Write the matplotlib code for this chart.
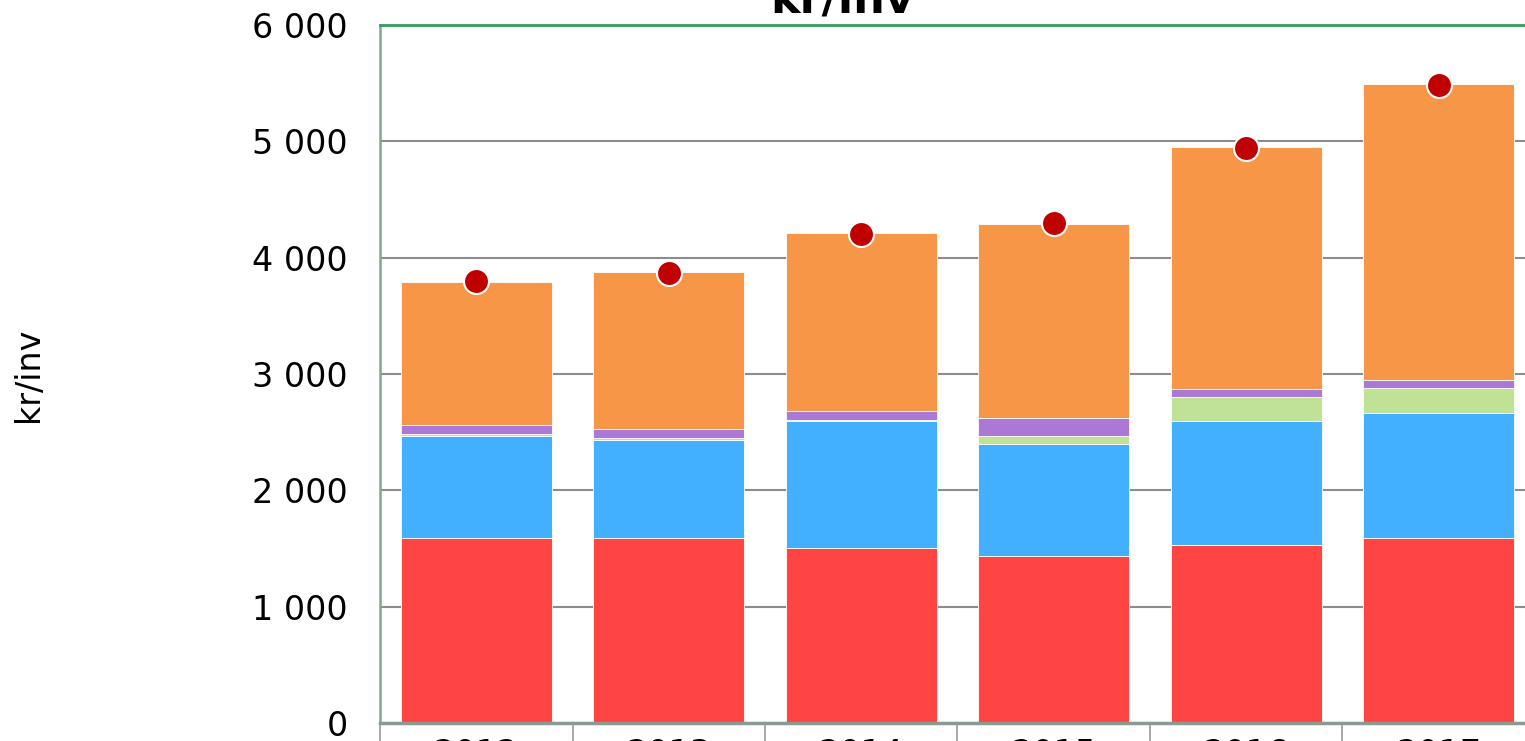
import matplotlib
matplotlib.use("Agg")
import matplotlib.pyplot as plt
import numpy as np

years = ["2012", "2013", "2014", "2015", "2016", "2017"]
red_vals = [1590, 1590, 1505, 1436, 1530, 1590]
blue_vals = [877, 843, 1091, 962, 1066, 1075]
green_vals = [18, 17, 9, 69, 206, 215]
purple_vals = [77, 77, 77, 155, 69, 68]
orange_vals = [1229, 1350, 1530, 1668, 2081, 2545]
totals = [3800, 3868, 4206, 4296, 4946, 5488]
yticks = [0, 1000, 2000, 3000, 4000, 5000, 6000]

W, H = 1525, 741
fig = plt.figure(figsize=(W / 100, H / 100), dpi=100)
# the original chart is wider than the saved picture, so the axes run past the right edge
ax = fig.add_axes([380 / W, (H - 723) / H, 1155 / W, 698 / H])

x = np.arange(len(years))
bw = 0.785
series = [
    (red_vals, "#FF4444"),
    (blue_vals, "#42AFFF"),
    (green_vals, "#BFE297"),
    (purple_vals, "#AC78D6"),
    (orange_vals, "#F79646"),
]
bottom = np.zeros(len(years))
for vals, col in series:
    ax.bar(x, vals, bw, bottom=bottom, color=col, edgecolor="white",
           linewidth=0.6, zorder=2)
    bottom += np.array(vals)

ax.plot(x, totals, "o", color="#C00000", markersize=18,
        markeredgecolor="white", markeredgewidth=1.5, zorder=3)

ax.set_xlim(-0.5, len(years) - 0.5)
ax.set_ylim(0, 6000)
ax.set_yticks(yticks)
ax.set_yticklabels([f"{v:,}".replace(",", " ") for v in yticks], fontsize=24)
ax.tick_params(axis="y", length=0, pad=23)
ax.set_xticks(x)
ax.set_xticklabels(years, fontsize=24)
ax.set_xticks(np.arange(-0.5, len(years)), minor=True)
ax.tick_params(axis="x", which="major", length=0, pad=11)
ax.tick_params(axis="x", which="minor", length=22, width=1.2, color="#999999")

ax.grid(axis="y", color="#8c8c8c", linewidth=1.5, zorder=0)
ax.set_axisbelow(True)
ax.spines["top"].set_color("#3a9a5c")
ax.spines["top"].set_linewidth(2)
ax.spines["left"].set_color("#80a890")
ax.spines["left"].set_linewidth(1.8)
ax.spines["bottom"].set_color("#8a9a90")
ax.spines["bottom"].set_linewidth(2.5)
ax.spines["right"].set_visible(False)

fig.text(842 / W, (H - 12) / H, "kr/inv", fontsize=32, fontweight="bold",
         ha="center", va="baseline")
fig.text(28 / W, (H - 375) / H, "kr/inv", fontsize=24, rotation=90,
         ha="center", va="center")

fig.savefig("out.png", dpi=100)
